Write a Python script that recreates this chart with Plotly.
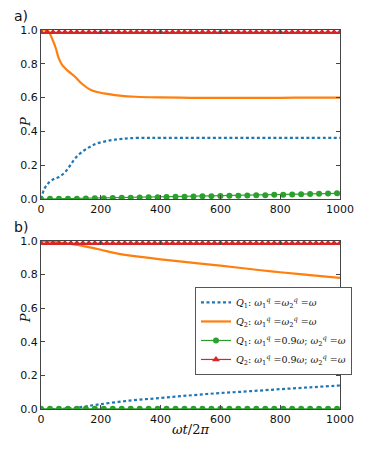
import plotly.graph_objects as go

# ---- data ----
# panel a)
ta_q1 = [0, 12, 28, 45, 60, 81, 98, 119, 146, 170, 189, 220, 242, 270, 296, 350, 400, 500, 600, 700, 800, 900, 1000]
pa_q1 = [0.0, 0.063, 0.10, 0.12, 0.13, 0.16, 0.20, 0.25, 0.29, 0.315, 0.33, 0.343, 0.35, 0.356, 0.36,
         0.362, 0.362, 0.362, 0.362, 0.362, 0.362, 0.362, 0.362]
ta_q2 = [0, 22, 38, 49, 59, 70, 92, 113, 135, 167, 210, 263, 317, 400, 500, 600, 700, 800, 900, 1000]
pa_q2 = [1.0, 0.998, 0.945, 0.895, 0.835, 0.795, 0.755, 0.725, 0.685, 0.645, 0.625, 0.612, 0.605,
         0.601, 0.599, 0.598, 0.598, 0.599, 0.600, 0.600]

t_circ = [0, 30, 60, 90, 120, 150, 180, 210, 240, 270, 300, 330, 360, 390, 420, 450, 480,
          510, 540, 570, 600, 630, 660, 690, 720, 750, 780, 810, 840, 870, 900, 930, 960, 990]
pa_q1d = [0.000, 0.001, 0.001, 0.002, 0.002, 0.003, 0.004, 0.005, 0.006, 0.007, 0.008, 0.009,
          0.010, 0.011, 0.012, 0.013, 0.014, 0.015, 0.016, 0.017, 0.018, 0.019, 0.020, 0.021,
          0.022, 0.023, 0.025, 0.026, 0.027, 0.029, 0.030, 0.031, 0.033, 0.034]

t_tri = list(range(0, 1001, 20))
p_q2d = [0.986] * len(t_tri)

# panel b)
tb_q1 = [0, 50, 81, 120, 189, 296, 403, 505, 600, 700, 800, 900, 1000]
pb_q1 = [0.0, 0.0, 0.002, 0.008, 0.026, 0.05, 0.066, 0.082, 0.095, 0.106, 0.118, 0.129, 0.14]
tb_q2 = [0, 60, 100, 150, 200, 253, 300, 400, 510, 600, 735, 800, 900, 1000]
pb_q2 = [1.0, 0.992, 0.982, 0.966, 0.948, 0.926, 0.913, 0.891, 0.870, 0.853, 0.826, 0.814, 0.797, 0.78]
pb_q1d = [0.001] * len(t_circ)

blue, orange, green, red = '#1f77b4', '#ff7f0e', '#2ca02c', '#d62728'

names = [
    '<i>Q</i><sub>1</sub>: <i>ω</i><sub>1</sub><sup><i>q</i></sup> =<i>ω</i><sub>2</sub><sup><i>q</i></sup> =<i>ω</i>',
    '<i>Q</i><sub>2</sub>: <i>ω</i><sub>1</sub><sup><i>q</i></sup> =<i>ω</i><sub>2</sub><sup><i>q</i></sup> =<i>ω</i>',
    '<i>Q</i><sub>1</sub>: <i>ω</i><sub>1</sub><sup><i>q</i></sup> =0.9<i>ω</i>; <i>ω</i><sub>2</sub><sup><i>q</i></sup> =<i>ω</i>',
    '<i>Q</i><sub>2</sub>: <i>ω</i><sub>1</sub><sup><i>q</i></sup> =0.9<i>ω</i>; <i>ω</i><sub>2</sub><sup><i>q</i></sup> =<i>ω</i>',
]

fig = go.Figure()

for ax, show, series in [
    ('', False, (ta_q1, pa_q1, ta_q2, pa_q2, pa_q1d)),
    ('2', True, (tb_q1, pb_q1, tb_q2, pb_q2, pb_q1d)),
]:
    t1, p1, t2, p2, p1d = series
    fig.add_trace(go.Scatter(x=t1, y=p1, mode='lines', name=names[0], showlegend=show,
                             line=dict(color=blue, width=2.2, dash='3px,2.5px', shape='spline'),
                             xaxis='x' + ax, yaxis='y' + ax))
    fig.add_trace(go.Scatter(x=t2, y=p2, mode='lines', name=names[1], showlegend=show,
                             line=dict(color=orange, width=2.2, shape='spline'),
                             xaxis='x' + ax, yaxis='y' + ax))
    fig.add_trace(go.Scatter(x=t_circ, y=p1d, mode='lines+markers', name=names[2], showlegend=show,
                             line=dict(color=green, width=1.2),
                             marker=dict(color=green, size=6, symbol='circle'),
                             xaxis='x' + ax, yaxis='y' + ax))
    fig.add_trace(go.Scatter(x=t_tri, y=p_q2d, mode='lines+markers', name=names[3], showlegend=show,
                             line=dict(color=red, width=1.2),
                             marker=dict(color=red, size=7, symbol='triangle-up'),
                             xaxis='x' + ax, yaxis='y' + ax))

axis_common = dict(showline=True, linecolor='#444', linewidth=1, mirror='ticks',
                   ticks='inside', ticklen=4, tickcolor='#444', showgrid=False, zeroline=False,
                   tickfont=dict(family='DejaVu Sans', size=11, color='#111'))

# the page adds an 8px body margin, so the figure is 16px smaller than the window
fig.update_layout(
    width=358, height=433,
    margin=dict(l=33, r=14, t=22, b=32),
    plot_bgcolor='white', paper_bgcolor='white',
    xaxis=dict(domain=[0, 1], anchor='y', range=[0, 1000], tickvals=[0, 200, 400, 600, 800, 1000],
               **axis_common),
    yaxis=dict(domain=[0.554, 1.0], anchor='x', range=[0, 1], tickvals=[0, 0.2, 0.4, 0.6, 0.8, 1.0],
               tickformat='.1f', **axis_common),
    xaxis2=dict(domain=[0, 1], anchor='y2', range=[0, 1000], tickvals=[0, 200, 400, 600, 800, 1000],
                **axis_common),
    yaxis2=dict(domain=[0, 0.4433], anchor='x2', range=[0, 1], tickvals=[0, 0.2, 0.4, 0.6, 0.8, 1.0],
                tickformat='.1f', **axis_common),
    legend=dict(x=0.515, y=0.322, xanchor='left', yanchor='top',
                bgcolor='white', bordercolor='#555', borderwidth=1,
                font=dict(family='DejaVu Serif', size=9.5, color='#111'),
                tracegroupgap=0, itemwidth=30),
    showlegend=True,
)

lab = dict(family='DejaVu Sans', size=14, color='#111')
fig.add_annotation(text='a)', x=-0.0675, y=1.0, xref='paper', yref='paper', yanchor='middle',
                   xanchor='center', yshift=14, showarrow=False, font=lab)
fig.add_annotation(text='b)', x=-0.0675, y=0.4433, xref='paper', yref='paper', yanchor='middle',
                   xanchor='center', yshift=14, showarrow=False, font=lab)
ptitle = dict(family='DejaVu Serif', size=13, color='#111')
fig.add_annotation(text='<i>P</i>', x=-0.084, y=0.777, xref='paper', yref='paper', textangle=-90,
                   showarrow=False, font=ptitle)
fig.add_annotation(text='<i>P</i>', x=-0.084, y=0.222, xref='paper', yref='paper', textangle=-90,
                   showarrow=False, font=ptitle)
fig.add_annotation(text='<i>ωt</i>/2<i>π</i>', x=0.5, y=-0.055, xref='paper', yref='paper',
                   yanchor='middle', showarrow=False, font=ptitle)

fig.write_html("out.html")
